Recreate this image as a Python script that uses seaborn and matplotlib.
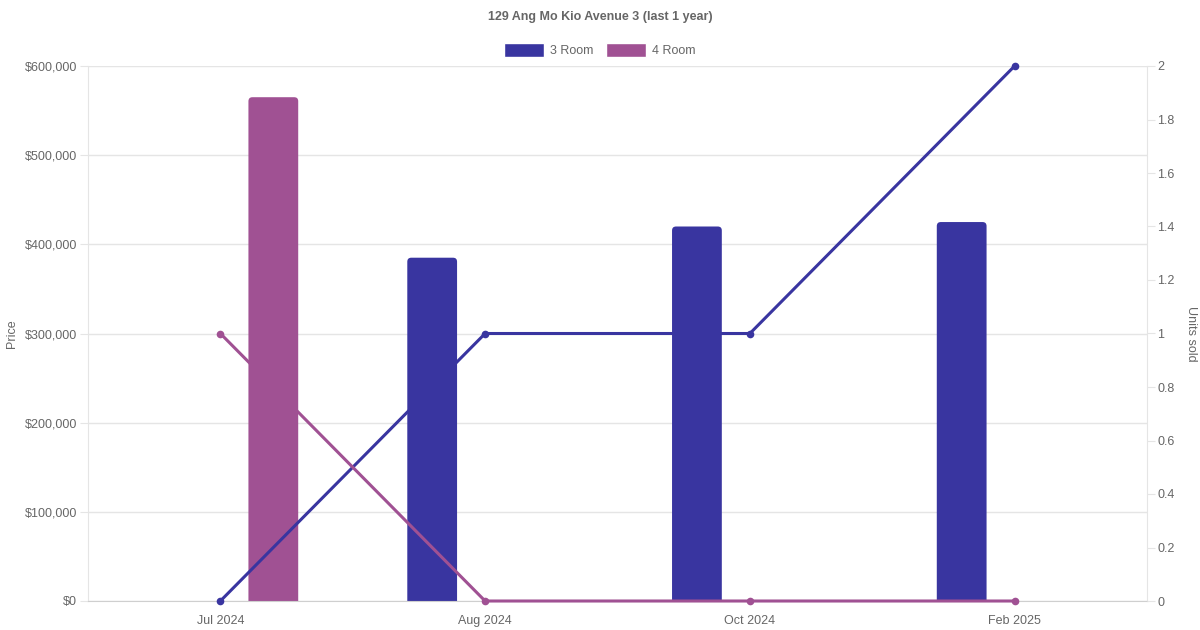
import numpy as np
import pandas as pd
import matplotlib
matplotlib.use("Agg")
import matplotlib.pyplot as plt
import seaborn as sns
from matplotlib.patches import Patch, FancyBboxPatch
from matplotlib.ticker import FuncFormatter, MultipleLocator

# ===== DATA =====
months = ["Jul 2024", "Aug 2024", "Oct 2024", "Feb 2025"]
rooms = ["3 Room", "4 Room"]
price_3room = [np.nan, 385000, 420000, 425000]
price_4room = [565000, np.nan, np.nan, np.nan]
units_3room = [0, 1, 1, 2]
units_4room = [1, 0, 0, 0]
colours = {"3 Room": "#3935a0", "4 Room": "#a05193"}

df_price = pd.DataFrame({
    "month": months * 2,
    "room": ["3 Room"] * len(months) + ["4 Room"] * len(months),
    "price": price_3room + price_4room,
})
df_units = pd.DataFrame({
    "pos": list(range(len(months))) * 2,
    "room": ["3 Room"] * len(months) + ["4 Room"] * len(months),
    "units": units_3room + units_4room,
})

# ===== STYLE =====
sns.set_style("white")
plt.rcParams["font.family"] = ["Liberation Sans", "DejaVu Sans"]
grey_txt = "#666666"
grid_col = "#e5e5e5"

W, H = 1200, 630
fig = plt.figure(figsize=(W / 100, H / 100), dpi=100)
left, right, top, bottom = 88, 1147, 66, 601
ax = fig.add_axes([left / W, 1 - bottom / H, (right - left) / W, (bottom - top) / H])

# ===== BARS (price) =====
sns.barplot(data=df_price, x="month", y="price", hue="room", hue_order=rooms,
            order=months, palette=colours, saturation=1, width=0.8, gap=0.53,
            ax=ax, legend=False)

ax.set_ylim(0, 600000)
ax.set_xlim(-0.5, len(months) - 0.5)

# rounded top corners
px_x = (len(months)) / (right - left)
px_y = 600000 / (bottom - top)
rx, ry = 4 * px_x, 4 * px_y
for bar in list(ax.patches):
    h = bar.get_height()
    if not np.isfinite(h) or h == 0:
        bar.remove()
        continue
    fb = FancyBboxPatch((bar.get_x(), -ry), bar.get_width(), h + ry,
                        boxstyle=f"round,pad=0,rounding_size={rx}",
                        mutation_aspect=ry / rx,
                        facecolor=bar.get_facecolor(), linewidth=0, zorder=2)
    bar.remove()
    ax.add_patch(fb)

ax.yaxis.set_major_locator(MultipleLocator(100000))
ax.yaxis.set_major_formatter(FuncFormatter(lambda v, p: f"${v:,.0f}"))
ax.grid(axis="y", color=grid_col, linewidth=1)
ax.set_axisbelow(True)
ax.tick_params(axis="y", length=6, color=grid_col, labelcolor=grey_txt, labelsize=9, pad=2)
ax.tick_params(axis="x", length=0, labelcolor=grey_txt, labelsize=9, pad=10)
ax.set_xlabel("")
ax.set_ylabel("Price", color=grey_txt, fontsize=9, labelpad=5)
for s in ["left", "right"]:
    ax.spines[s].set_color(grid_col)
ax.spines["bottom"].set_color("#cfcfcf")
ax.spines["top"].set_visible(False)

# ===== LINES (units sold) =====
ax2 = ax.twinx()
sns.lineplot(data=df_units, x="pos", y="units", hue="room", hue_order=rooms,
             palette=colours, marker="o", markersize=5.5, markeredgewidth=0,
             linewidth=2.2, ax=ax2, legend=False)
for ln in ax2.lines:
    ln.set_clip_on(False)
ax2.set_ylim(0, 2)
ax.set_xlim(-0.5, len(months) - 0.5)
ax2.yaxis.set_major_locator(MultipleLocator(0.2))
ax2.yaxis.set_major_formatter(FuncFormatter(lambda v, p: f"{v:g}"))
ax2.tick_params(axis="y", length=6, color=grid_col, labelcolor=grey_txt, labelsize=9, pad=1.5)
ax2.set_ylabel("Units sold", color=grey_txt, fontsize=9, rotation=270, labelpad=16)
ax2.set_xlabel("")
for s in ax2.spines.values():
    s.set_visible(False)

# ===== TITLE + LEGEND =====
fig.text(0.5, 1 - 17 / H, "129 Ang Mo Kio Avenue 3 (last 1 year)", ha="center", va="center",
         fontsize=9, fontweight="bold", color=grey_txt)
handles = [Patch(facecolor=colours[r], label=r) for r in rooms]
fig.legend(handles=handles, loc="center", bbox_to_anchor=(0.5, 1 - 50 / H), ncol=2,
           frameon=False, handlelength=3.2, handleheight=1.3, handletextpad=0.5,
           columnspacing=1.0, fontsize=9, labelcolor=grey_txt)

fig.savefig("out.png", dpi=100)
